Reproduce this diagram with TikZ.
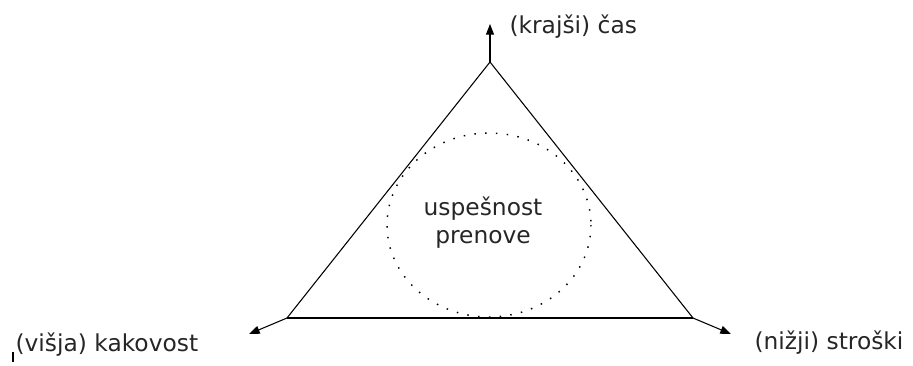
\documentclass[tikz,border=0pt]{standalone}
\usepackage{fontspec}
\setmainfont{DejaVu Sans}
\usetikzlibrary{arrows.meta}
\begin{document}
\begin{tikzpicture}
  [x=0.75pt,y=-0.75pt,line width=0.8pt,
   label/.style={anchor=west,inner sep=0pt,font=\fontsize{17.5}{21}\selectfont,text=black!85},
   axis/.style={-{Triangle[length=8pt,width=6pt]}}]
  \useasboundingbox (0,0) rectangle (913,365);

  % vertices of the triangle
  \coordinate (top) at (490,62);
  \coordinate (left) at (287,318);
  \coordinate (right) at (693,318);

  % free ends of the arrows
  \coordinate (topEnd) at (490,24);
  \coordinate (leftEnd) at (249,334);
  \coordinate (rightEnd) at (731,334);

  \foreach \from/\to in {top/left, left/right, right/top}
  \draw (\from) -- (\to);

  \foreach \from/\to in {top/topEnd, left/leftEnd, right/rightEnd}
  \draw[axis] (\from) -- (\to);

  % dotted circle in the middle
  \draw[line width=1.1pt,dash pattern=on 1.1pt off 7pt] (489,225) ellipse [x radius=102,y radius=92];

  \node[label] (cas) at (509,27) {(krajši) čas};
  \node[label] (kakovost) at (15,345) {(višja) kakovost};
  \node[label] (stroski) at (754,343) {(nižji) stroški};
  \node[label,anchor=center,align=center] (uspeh) at (483,223) {uspešnost\\prenove};

  \draw[line width=1.2pt] (13,352) -- (13,362);
\end{tikzpicture}
\end{document}
